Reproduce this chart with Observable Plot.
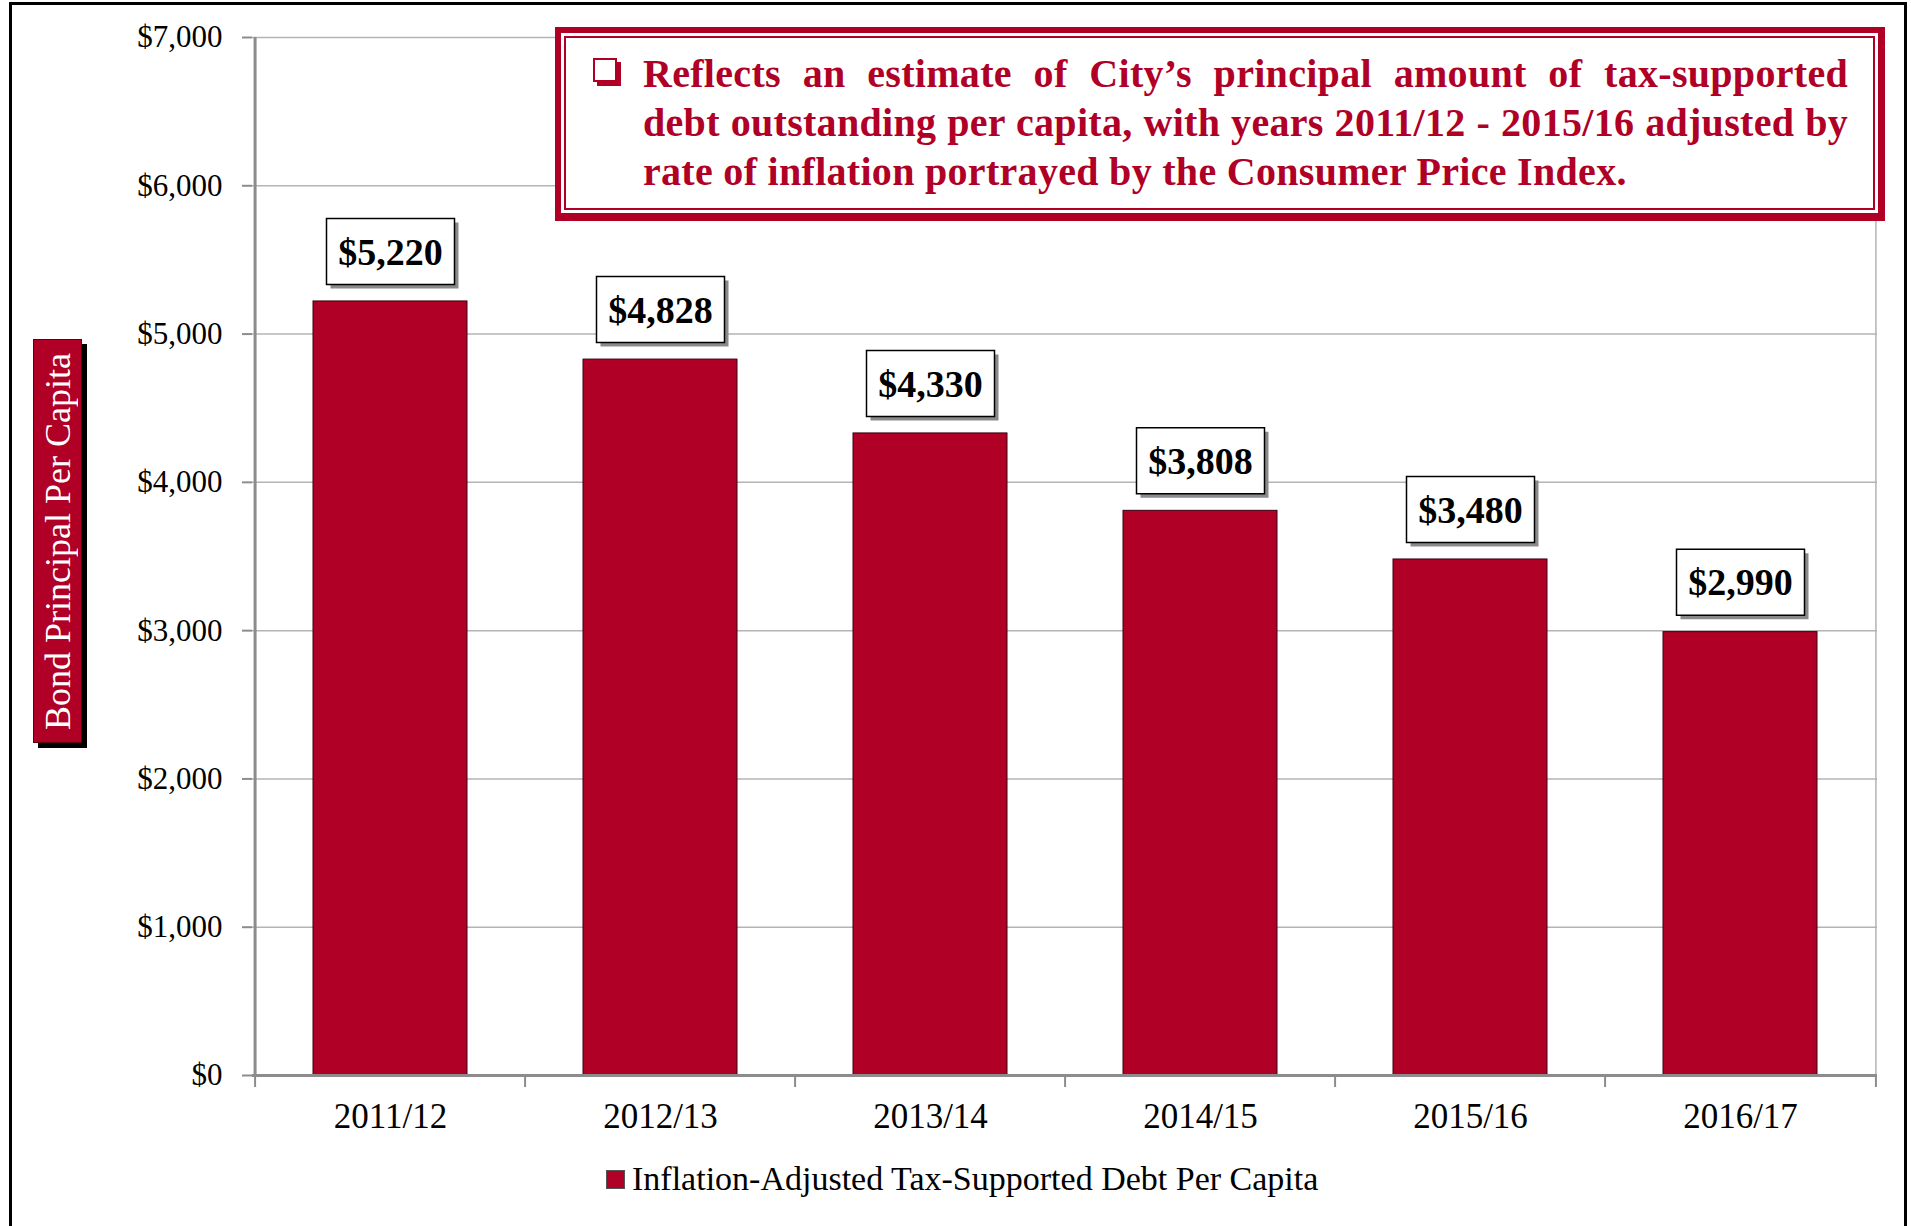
<!DOCTYPE html>
<html><head><meta charset="utf-8">
<script src="https://cdn.jsdelivr.net/npm/d3@7"></script>
<script src="https://cdn.jsdelivr.net/npm/@observablehq/plot@0.6"></script>
<style>
html,body{margin:0;padding:0;background:#fff;overflow:hidden;}
#wrap{position:relative;width:1911px;height:1226px;font-family:"Liberation Serif","Times New Roman",serif;}
#frame{position:absolute;left:9px;top:2px;width:1898px;height:1260px;border:3px solid #000;box-sizing:border-box;}
#chart{position:absolute;left:0;top:0;}
#note{position:absolute;left:555px;top:27px;width:1330px;height:194px;box-sizing:border-box;border:6px solid #b00026;border-right-width:7px;border-bottom-width:8px;padding:3px;background:#fff;}
#note .inner{border:2px solid #b00026;height:100%;box-sizing:border-box;padding:11px 25px 0 77px;position:relative;color:#b00026;font-weight:bold;font-size:40px;line-height:49px;letter-spacing:0.3px;}
#note .line{text-align:justify;text-align-last:justify;white-space:nowrap;}
#note .last{text-align:left;text-align-last:left;white-space:nowrap;}
#bullet{position:absolute;left:27px;top:20px;width:20px;height:20px;border:2px solid #b00026;background:#fff;box-shadow:4px 4px 0 #b00026;}
#ytitle{position:absolute;left:33px;top:339px;width:49px;height:404px;background:#b00026;border:1px solid #5a0010;box-sizing:border-box;box-shadow:5px 5px 0 #000;color:#fff;font-size:36px;display:flex;align-items:center;justify-content:center;}
#ytitle span{writing-mode:vertical-rl;transform:rotate(180deg);white-space:nowrap;}
#legend{position:absolute;left:606px;top:1160px;display:flex;align-items:center;font-size:34px;color:#000;}
#legend .sw{width:17px;height:17px;background:#b00026;border:1px solid #555;margin-right:7px;}
</style>
</head>
<body>
<div id="wrap">
  <div id="frame"></div>
  <div id="chart"></div>
  <div id="ytitle"><span id="ytitleText"></span></div>
  <div id="note"><div class="inner"><div id="bullet"></div><div id="noteText"></div></div></div>
  <div id="legend"><div class="sw"></div><span id="legendText"></span></div>
</div>
<script>
const years = ["2011/12","2012/13","2013/14","2014/15","2015/16","2016/17"];
const values = [5220,4828,4330,3808,3480,2990];
const valueLabels = ["$5,220","$4,828","$4,330","$3,808","$3,480","$2,990"];
const yTicks = [0,1000,2000,3000,4000,5000,6000,7000];
const yTitle = "Bond Principal Per Capita";
const legendLabel = "Inflation-Adjusted Tax-Supported Debt Per Capita";
const noteLines = [
  "Reflects an estimate of City’s principal amount of tax-supported",
  "debt outstanding per capita, with years 2011/12 - 2015/16 adjusted by",
  "rate of inflation portrayed by the Consumer Price Index."
];

const data = years.map((y,i)=>({year:y,value:values[i],label:valueLabels[i]}));

const W=1911, H=1140, ML=252, MR=34, MT=37, MB=65;
const step = (W-ML-MR)/years.length;
const crimson = "#b00026";
const axisGray = "#8c8c8c";
const gridGray = "#b4b4b4";

// label box size (pixels) and offset above bar top
const BOX_W = 128, BOX_H = 66, LABEL_OFFSET = 50, SHADOW = 4;
const boxSymbol = {draw(ctx){ ctx.rect(-BOX_W/2, -BOX_H/2, BOX_W, BOX_H); }};

const plot = Plot.plot({
  width:W, height:H, marginLeft:ML, marginRight:MR, marginTop:MT, marginBottom:MB,
  style:{fontFamily:'"Liberation Serif","Times New Roman",serif', background:"transparent", overflow:"visible", color:"#000"},
  x:{domain:years, paddingInner:0.43, paddingOuter:0.215, label:null},
  y:{domain:[0,7000], label:null},
  marks:[
    Plot.gridY(yTicks,{stroke:gridGray, strokeOpacity:1, strokeWidth:1.5}),
    Plot.barY(data,{x:"year", y:"value", fill:crimson, stroke:"#3a0010", strokeWidth:1}),
    Plot.ruleX([years[years.length-1]],{x:d=>d, y1:0, y2:7000, dx:step/2, stroke:gridGray, strokeWidth:1.5}),
    Plot.ruleX([years[0]],{x:d=>d, y1:0, y2:7000, dx:-step/2, stroke:axisGray, strokeWidth:3}),
    Plot.ruleY([0],{stroke:axisGray, strokeWidth:3}),
    Plot.ruleX(years,{x:d=>d, y1:0, y2:0, dx:-step/2, insetBottom:-12, stroke:axisGray, strokeWidth:2}),
    Plot.ruleX([years[years.length-1]],{x:d=>d, y1:0, y2:0, dx:step/2, insetBottom:-12, stroke:axisGray, strokeWidth:2}),
    Plot.axisY({ticks:yTicks, tickFormat:d=>"$"+d3.format(",")(d), tickSize:10, tickPadding:20, fontSize:31, stroke:axisGray, strokeWidth:2, label:null}),
    Plot.axisX({tickSize:0, tickPadding:28, fontSize:35, label:null}),
    Plot.dot(data,{x:"year", y:"value", dx:SHADOW, dy:-LABEL_OFFSET+SHADOW, symbol:boxSymbol, fill:"#8a8a8a", stroke:"none"}),
    Plot.dot(data,{x:"year", y:"value", dy:-LABEL_OFFSET, symbol:boxSymbol, fill:"#fff", stroke:"#000", strokeWidth:1.5}),
    Plot.text(data,{x:"year", y:"value", text:"label", dy:-LABEL_OFFSET+1, fontSize:38, fontWeight:"bold", fill:"#000"})
  ]
});
document.getElementById("chart").append(plot);

document.getElementById("ytitleText").textContent = yTitle;
document.getElementById("legendText").textContent = legendLabel;
const nt = document.getElementById("noteText");
noteLines.forEach((s,i)=>{
  const d = document.createElement("div");
  d.className = i < noteLines.length-1 ? "line" : "last";
  d.textContent = s;
  nt.append(d);
});
</script>
</body></html>
